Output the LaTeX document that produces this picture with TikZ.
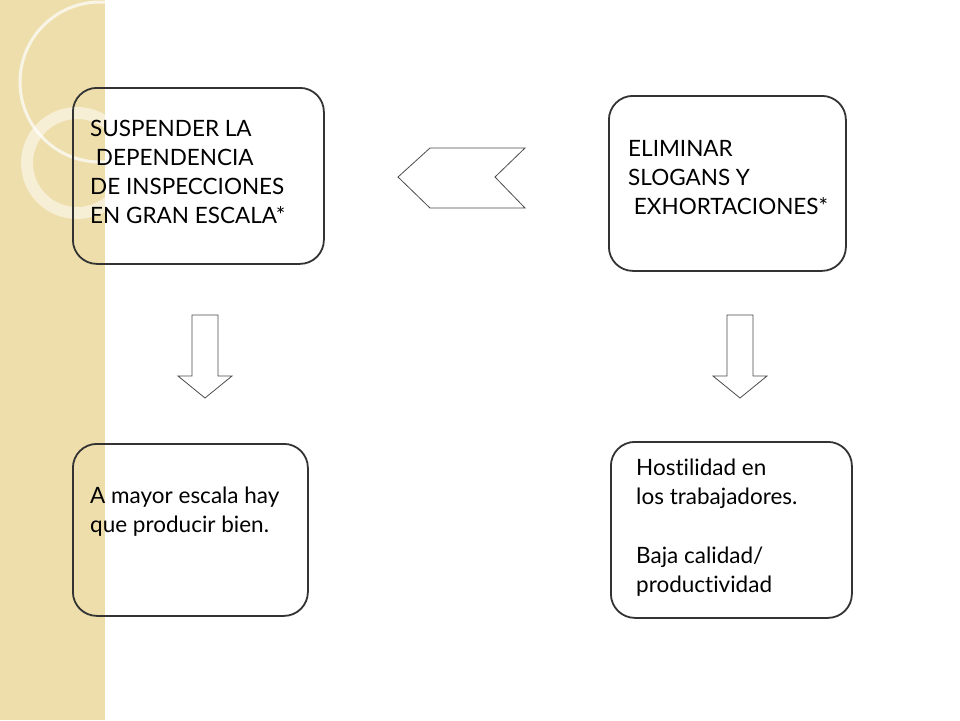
\documentclass[tikz,border=0pt]{standalone}
\usepackage{fontspec}
\setmainfont{Lato}[Ligatures=NoCommon]
\definecolor{strip}{RGB}{238,222,172}
\begin{document}
\begin{tikzpicture}[x=1pt,y=-1pt,
  box/.style={draw=black!80,line width=1.8pt,rounded corners=24pt},
  txt/.style={anchor=north west,align=left,font=\fontsize{22.5}{29}\selectfont,inner sep=0pt},
  arr/.style={draw=black!70,line width=0.8pt,fill=white}]
\useasboundingbox (0,0) rectangle (960,720);
\fill[white] (0,0) rectangle (960,720);
\fill[strip] (0,0) rectangle (105,720);
\draw[white,line width=3pt,opacity=0.7] (100,82) circle (80);
\draw[white,line width=12pt,opacity=0.5] (77,163) circle (50);
\node[box,minimum width=251,minimum height=176,anchor=north west] (b1) at (72,87) {};
\node[box,minimum width=237,minimum height=175,anchor=north west] (b2) at (608,95) {};
\node[box,minimum width=235,minimum height=172,anchor=north west] (b3) at (72,443) {};
\node[box,minimum width=241,minimum height=176,anchor=north west] (b4) at (610,441) {};
\node[txt] (t1) at (90,120) {SUSPENDER LA\\ \ DEPENDENCIA\\DE INSPECCIONES\\EN GRAN ESCALA*};
\node[txt] (t2) at (628,140) {ELIMINAR\\SLOGANS Y\\ \ EXHORTACIONES*};
\node[txt] (t3) at (90,487) {A mayor escala hay\\que producir bien.};
\node[txt] (t4) at (636,459) {Hostilidad en\\los trabajadores.\\[30pt]Baja calidad/\\productividad};
\draw[arr] (398,177) -- (430,148) -- (525,148) -- (495,177) -- (525,208) -- (430,208) -- cycle;
\draw[arr] (192,315) -- (218,315) -- (218,376) -- (232,376) -- (205,398) -- (178,376) -- (192,376) -- cycle;
\draw[arr] (727,315) -- (753,315) -- (753,376) -- (767,376) -- (740,398) -- (713,376) -- (727,376) -- cycle;
\end{tikzpicture}
\end{document}
